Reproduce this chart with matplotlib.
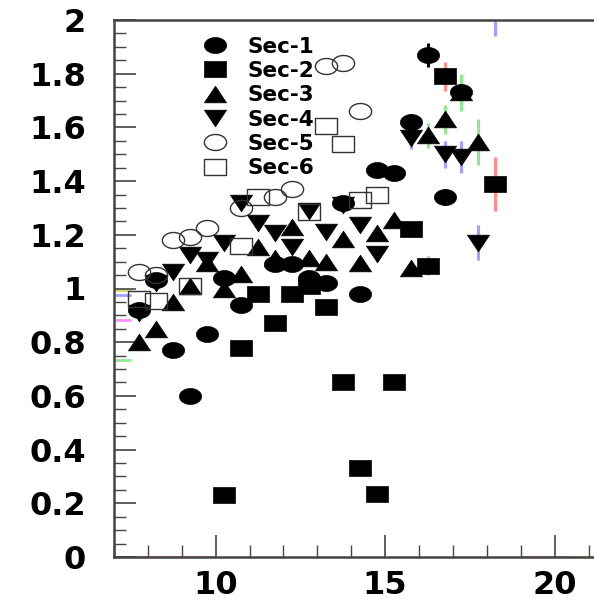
import numpy as np
import matplotlib
matplotlib.use("Agg")
import matplotlib.pyplot as plt
from matplotlib.path import Path
from matplotlib.ticker import MultipleLocator

# Sector data (bin centres, values, vertical errors)
sec1_x = [7.75, 8.25, 8.75, 9.25, 9.75, 10.25, 10.75, 11.75, 12.25, 12.75, 13.25, 13.75, 14.25,
          14.75, 15.25, 15.75, 16.25, 16.75, 17.25]
sec1_y = [0.92, 1.03, 0.77, 0.60, 0.83, 1.04, 0.94, 1.09, 1.09, 1.04, 1.02, 1.32, 0.98,
          1.44, 1.43, 1.62, 1.87, 1.34, 1.73]
sec1_err = [0.02, 0.02, 0.02, 0.02, 0.02, 0.02, 0.02, 0.02, 0.02, 0.02, 0.02, 0.02, 0.02,
            0.02, 0.02, 0.03, 0.045, 0.03, 0.03]

sec2_x = [10.25, 10.75, 11.25, 11.75, 12.25, 12.75, 13.25, 13.75, 14.25, 14.75, 15.25, 15.75,
          16.25, 16.75, 18.25]
sec2_y = [0.23, 0.78, 0.98, 0.87, 0.98, 1.01, 0.93, 0.65, 0.33, 0.235, 0.65, 1.22,
          1.085, 1.79, 1.39]
sec2_err = [0.02, 0.02, 0.02, 0.02, 0.02, 0.02, 0.02, 0.02, 0.02, 0.02, 0.02, 0.02,
            0.035, 0.055, 0.1]

sec3_x = [7.75, 8.25, 8.75, 9.25, 9.75, 10.25, 10.75, 11.25, 11.75, 12.25, 12.75, 13.25, 13.75,
          14.25, 14.75, 15.25, 15.75, 16.25, 16.75, 17.25, 17.75]
sec3_y = [0.80, 0.85, 0.95, 1.01, 1.095, 1.00, 1.055, 1.155, 1.115, 1.23, 1.115, 1.10, 1.185,
          1.095, 1.205, 1.255, 1.075, 1.57, 1.63, 1.73, 1.545]
sec3_err = [0.02, 0.02, 0.02, 0.02, 0.02, 0.02, 0.02, 0.02, 0.02, 0.02, 0.02, 0.02, 0.02,
            0.02, 0.02, 0.02, 0.02, 0.045, 0.055, 0.07, 0.085]

sec4_x = [7.75, 8.25, 8.75, 9.25, 9.75, 10.25, 10.75, 11.25, 11.75, 12.25, 12.75, 13.25, 13.75,
          14.25, 14.75, 15.75, 16.75, 17.25, 17.75, 18.25]
sec4_y = [0.91, 1.02, 1.06, 1.125, 1.105, 1.17, 1.32, 1.245, 1.205, 1.155, 1.29, 1.21, 1.31,
          1.235, 1.13, 1.56, 1.50, 1.49, 1.17, 2.1]
sec4_err = [0.02, 0.02, 0.02, 0.02, 0.02, 0.02, 0.02, 0.02, 0.02, 0.02, 0.02, 0.02, 0.02,
            0.02, 0.02, 0.04, 0.05, 0.06, 0.065, 0.16]

# open-marker sectors: errors are smaller than the marker, not visible
sec5_x = [7.75, 8.25, 8.75, 9.25, 9.75, 10.75, 11.75, 12.25, 13.25, 13.75, 14.25]
sec5_y = [1.06, 1.05, 1.18, 1.19, 1.225, 1.30, 1.34, 1.37, 1.83, 1.84, 1.66]
sec5_err = [0, 0, 0, 0, 0, 0, 0, 0, 0, 0, 0]

sec6_x = [7.75, 8.25, 9.25, 10.75, 11.25, 12.75, 13.25, 13.75, 14.25, 14.75]
sec6_y = [0.96, 0.955, 1.01, 1.16, 1.34, 1.285, 1.605, 1.54, 1.33, 1.35]
sec6_err = [0, 0, 0, 0, 0, 0, 0, 0, 0, 0]

# points just outside the x range (only their horizontal bars show)
edge_x = [6.75, 6.75, 6.75, 6.75]
edge_y = [0.734, 0.976, 0.995, 0.883]
edge_sec = [3, 4, 5, 6]

# empty bins drawn at zero
zero_x = [7.25, 7.75, 8.25, 8.75, 9.25, 9.75, 19.25, 19.75, 20.25, 20.75, 21.25]
zero_sec = [2, 2, 2, 2, 2, 2, 2, 2, 4, 5, 5]

labels = ["Sec-1", "Sec-2", "Sec-3", "Sec-4", "Sec-5", "Sec-6"]
err_colors = ["black", "#ff9090", "#90e890", "#a0a0ff", "#d8d860", "#ff90ff"]

series = [(sec1_x, sec1_y, sec1_err), (sec2_x, sec2_y, sec2_err), (sec3_x, sec3_y, sec3_err),
          (sec4_x, sec4_y, sec4_err), (sec5_x, sec5_y, sec5_err), (sec6_x, sec6_y, sec6_err)]

# the original picture is stretched sideways, so the markers are wider than tall
t = np.linspace(0, 2 * np.pi, 60)
ellipse = Path(np.column_stack([np.cos(t), 0.72 * np.sin(t)]), closed=True)
rect = Path([(-1, -0.7), (1, -0.7), (1, 0.7), (-1, 0.7), (-1, -0.7)], closed=True)
tri_up = Path([(-1, -0.75), (1, -0.75), (0, 0.75), (-1, -0.75)], closed=True)
tri_dn = Path([(-1, 0.75), (1, 0.75), (0, -0.75), (-1, 0.75)], closed=True)

styles = [
    dict(marker=ellipse, ms=16, mfc="black", mec="black", mew=0.5),
    dict(marker=rect, ms=16, mfc="black", mec="black", mew=0.5),
    dict(marker=tri_up, ms=16, mfc="black", mec="black", mew=0.5),
    dict(marker=tri_dn, ms=16, mfc="black", mec="black", mew=0.5),
    dict(marker=ellipse, ms=16, mfc="none", mec="#333333", mew=1.0),
    dict(marker=rect, ms=16, mfc="none", mec="#333333", mew=1.0),
]

fig = plt.figure(figsize=(5.94, 6.07), dpi=100)
ax = fig.add_axes([114 / 594, 50 / 607, 1 - 114 / 594, 537 / 607])

for i, (xs, ys, es) in enumerate(series):
    ax.errorbar(xs, ys, yerr=es, fmt="none", ecolor=err_colors[i], elinewidth=2.2,
                capsize=0, zorder=1)

for x, y, s in zip(edge_x, edge_y, edge_sec):
    ax.errorbar([x], [y], xerr=[0.75], fmt="none", ecolor=err_colors[s - 1],
                elinewidth=2, capsize=0, zorder=1)

for x, s in zip(zero_x, zero_sec):
    ax.errorbar([x], [0], xerr=[0.25], fmt="none", ecolor=err_colors[s - 1],
                elinewidth=2, capsize=0, zorder=1)

for i, (xs, ys, es) in enumerate(series):
    ax.plot(xs, ys, ls="none", label=labels[i], zorder=3, **styles[i])

ax.set_xlim(7, 21.16)
ax.set_ylim(0, 2)

ax.xaxis.set_major_locator(MultipleLocator(5))
ax.xaxis.set_minor_locator(MultipleLocator(1))
ax.yaxis.set_major_locator(MultipleLocator(0.2))
ax.yaxis.set_minor_locator(MultipleLocator(0.05))
ax.set_yticks([0, 0.2, 0.4, 0.6, 0.8, 1, 1.2, 1.4, 1.6, 1.8, 2])
ax.set_yticklabels(["0", "0.2", "0.4", "0.6", "0.8", "1", "1.2", "1.4", "1.6", "1.8", "2"])

ax.tick_params(which="major", direction="in", length=16, width=1.2, color="#444444",
               labelsize=23)
ax.tick_params(which="minor", direction="in", length=8.5, width=1.0, color="#444444")
ax.tick_params(axis="y", pad=20)
ax.tick_params(axis="x", pad=9)
ax.tick_params(top=False, right=False, which="both")
for lab in ax.get_xticklabels() + ax.get_yticklabels():
    lab.set_fontweight("bold")

for side in ["left", "bottom", "top"]:
    ax.spines[side].set_linewidth(1.8)
    ax.spines[side].set_color("#444444")
ax.spines["right"].set_visible(False)

leg = ax.legend(loc="upper left", bbox_to_anchor=(0.17, 0.985), frameon=False,
                prop=dict(size=15.5, weight="bold"), handlelength=1.0,
                handletextpad=1.0, labelspacing=0.2, borderaxespad=0)

fig.savefig("out.png", dpi=100)
